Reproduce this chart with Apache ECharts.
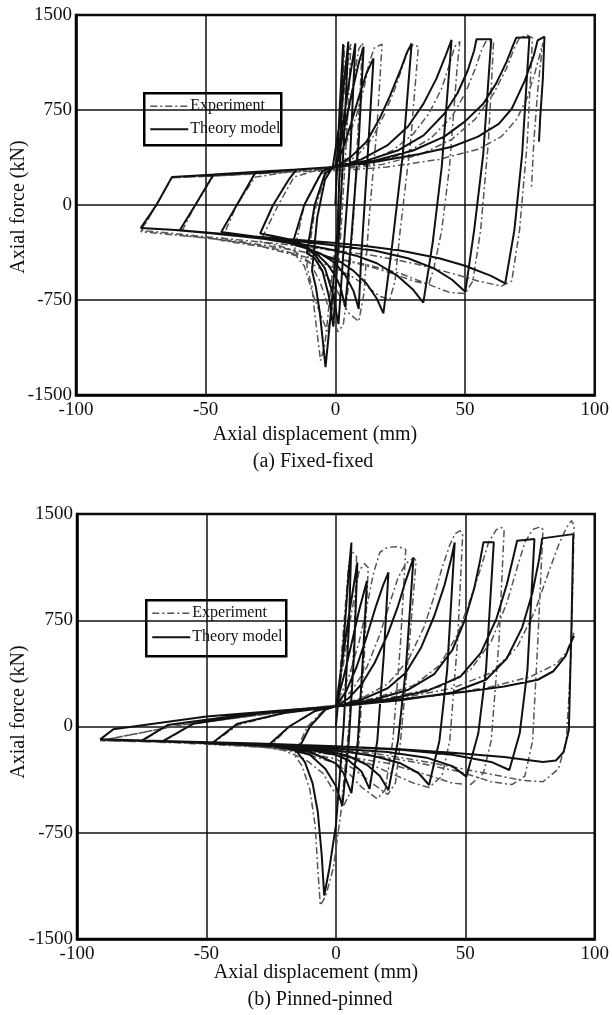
<!DOCTYPE html>
<html>
<head>
<meta charset="utf-8">
<script src="https://cdn.jsdelivr.net/npm/echarts@6/dist/echarts.min.js"></script>
<style>
html,body{margin:0;padding:0;background:#fff;}
#chart{width:612px;height:1015px;}
</style>
</head>
<body>
<div id="chart"></div>
<script>
// ---- data ----
const xTickValues = [-100, -50, 0, 50, 100];
const yTickValues = [-1500, -750, 0, 750, 1500];
const seriesNames = ['Experiment', 'Theory model'];
const panelTitles = ['(a) Fixed-fixed', '(b) Pinned-pinned'];
const xAxisTitle = 'Axial displacement (mm)';
const yAxisTitle = 'Axial force (kN)';

// (a) Fixed-fixed, theory model
const fixedTheory = [
[0,0],[1.5,700],[3,1270],[2.2,600],[0.8,-200],[-1.5,-800],[-3.8,-1280],[-4.8,-1080],[-6,-850],[-7.5,-650],[-9,-520],
[-7,-100],[-4,200],[-1,300],[2,700],[4,1100],[5,1290],
[3.5,600],[1.5,-200],[-0.8,-960],
[-2.5,-720],[-5,-520],[-8,-420],[-11,-380],
[-8,0],[-4,250],[0,300],[3,650],[5.5,1000],[7.7,1276],
[5.5,300],[3,-400],[1.2,-940],
[-1,-700],[-4,-500],[-8,-390],[-12,-330],[-16,-270],
[-12,0],[-5,270],[0,300],[3,560],[6,850],[9,1120],[10.9,1250],
[9,500],[6,-300],[3.8,-803],
[2,-650],[0,-560],[-3,-470],[-7,-390],[-12,-320],[-18,-270],[-24,-245],[-29,-225],
[-24,0],[-18,200],[-15,280],[-5,295],[0,300],[3,450],[6,640],[9,850],[12,1040],[14.7,1158],
[12.5,400],[10,-400],[9,-820],
[7,-680],[4,-560],[0,-460],[-6,-380],[-14,-320],[-24,-270],[-34,-240],[-44,-213],
[-38,0],[-31,250],[-15,280],[0,300],[6,380],[12,500],[17,680],[21,860],[25,1060],[27.5,1200],[29.4,1276],
[26,400],[22,-300],[18.5,-855],
[16,-740],[12,-620],[7,-520],[2,-450],[-4,-400],[-10,-350],[-18,-300],[-30,-258],[-45,-228],[-60,-200],
[-54,0],[-47,240],[-30,262],[-15,280],[0,300],[10,360],[20,470],[28,620],[34,800],[39,1000],[42.5,1180],[44.8,1303],
[41,300],[37.5,-300],[33.9,-771],
[30,-670],[24,-560],[16,-460],[8,-400],[0,-360],[-10,-320],[-20,-285],[-35,-250],[-50,-220],[-63,-196],[-75,-181],
[-69,0],[-63,222],[-40,245],[-18,274],[0,300],[12,350],[24,430],[34,550],[42,720],[47,880],[51,1060],[53.5,1220],[54.4,1308],[60.1,1308],
[57,400],[53.5,-200],[50.1,-684],
[45,-590],[38,-500],[28,-420],[15,-360],[0,-320],[-15,-285],[-30,-255],[-45,-225],[-60,-200],[-75,-181],
[-69,0],[-63,222],[-40,245],[-18,274],[0,300],[15,350],[30,430],[42,540],[50,660],[57,800],[62,960],[66,1130],[68.5,1260],[69.7,1320],[74.8,1324],
[72,400],[69,-200],[65.5,-618],
[60,-560],[50,-480],[40,-420],[25,-360],[10,-320],[0,-300],[-15,-275],[-30,-250],[-45,-225],[-60,-200],[-75,-181],
[-69,0],[-63,222],[-18,274],[0,300],[15,340],[32,400],[45,460],[55,540],[63,640],[68,760],[73,980],[76.5,1180],[78,1300],[80.6,1329],
[80,1000],[79,700],[78.5,500]
];

// (a) Fixed-fixed, experiment
const fixedExp = [
[0,0],[1.5,600],[3,1200],[3.5,1260],[2.8,700],[1,-100],[-2,-700],[-4,-1100],[-5.7,-1228],[-6.5,-1100],[-8,-850],[-9,-650],[-11,-480],
[-8,-50],[-4,230],[0,320],[2,650],[4,1000],[5.5,1240],[6,1270],
[4.5,600],[2,-250],[-1,-800],[-3,-1000],[-5,-900],[-8.7,-700],[-12,-480],[-16,-380],
[-12,0],[-6,240],[0,300],[4,600],[7,980],[9,1230],[10.5,1280],
[9,700],[7,-100],[5,-650],[3,-950],[1,-1000],[-2,-850],[-6,-600],[-10,-450],[-16,-360],[-22,-320],[-29,-290],
[-22,0],[-16,220],[-8,270],[0,310],[4,480],[8,700],[11,920],[13,1120],[15,1240],[18,1270],
[16,600],[13,-100],[11,-700],[9,-920],[5,-850],[0,-650],[-6,-500],[-15,-400],[-28,-330],[-44,-280],
[-38,0],[-31,220],[-15,270],[0,300],[8,380],[14,520],[19,720],[23,920],[26,1100],[28,1220],[30,1265],[32,1250],
[29,500],[25,-200],[23,-600],[21,-745],[17,-720],[12,-640],[6,-560],[0,-500],[-10,-420],[-20,-360],[-35,-300],[-50,-260],[-60,-240],
[-54,0],[-47,230],[-30,250],[-15,270],[0,290],[12,340],[22,430],[30,560],[36,720],[41,920],[44,1110],[46,1250],[48,1290],[47,1100],
[44,300],[41,-200],[38,-500],[36,-627],[30,-600],[22,-540],[12,-480],[0,-420],[-15,-360],[-30,-310],[-50,-260],[-65,-230],[-75,-210],
[-69,0],[-63,215],[-40,235],[-18,260],[0,280],[15,330],[27,410],[37,530],[45,700],[50,880],[54,1080],[56.5,1230],[58,1290],[61,1290],
[59,500],[56,-200],[53,-600],[50,-700],[44,-690],[35,-620],[25,-540],[12,-470],[0,-420],[-20,-340],[-40,-280],[-60,-240],[-75,-210],
[-69,0],[-63,215],[-40,235],[-18,260],[0,280],[18,320],[33,400],[45,520],[54,680],[61,880],[66,1080],[69,1240],[71,1320],[74,1340],[76,1320],
[74,500],[71,-200],[68,-600],[64,-640],[55,-600],[45,-540],[30,-460],[15,-400],[0,-360],[-20,-310],[-40,-270],[-60,-230],[-75,-200],
[-69,0],[-63,215],[-18,260],[0,270],[20,300],[40,360],[55,440],[64,540],[70,680],[74,850],[77,1050],[79,1200],[80,1280],[79.5,1200],[78,900],[76.5,500],[75.6,130]
];

// (b) Pinned-pinned, theory model
const pinnedTheory = [
[0,0],[3,600],[5,1100],[6,1299],
[5,700],[3,0],[0,-700],[-2.5,-1000],[-4.5,-1193],[-5.5,-900],[-7,-600],[-9,-400],[-12,-250],[-15,-180],
[-10,0],[-4,120],[0,142],[2,400],[5,780],[8.3,1158],
[7,500],[5,-100],[2.5,-560],[0,-420],[-4,-300],[-10,-200],[-20,-150],[-26,-130],
[-18,0],[-8,110],[0,142],[3,350],[6,580],[9,820],[12,1028],
[10.5,500],[8.5,-100],[6,-470],[3,-330],[0,-260],[-10,-180],[-25,-140],[-40,-125],[-48,-120],
[-38,20],[-20,95],[0,142],[4,250],[8,420],[12,640],[15.5,850],[18.3,1000],[20.3,1087],
[18.5,500],[16,-100],[13,-440],[10,-320],[5,-240],[0,-200],[-15,-150],[-35,-125],[-55,-110],[-67,-105],
[-55,20],[-30,90],[0,142],[5,200],[10,300],[15,450],[20,650],[24,850],[27,1030],[30,1193],
[27,400],[24,-100],[20.3,-449],[17,-350],[12,-270],[5,-210],[0,-185],[-20,-145],[-45,-120],[-75,-100],
[-65,10],[-35,85],[0,142],[10,190],[20,270],[27,380],[33,560],[38,780],[42,1000],[44.5,1180],[45.9,1299],
[43,400],[40,-100],[36,-413],[32,-330],[25,-260],[15,-210],[5,-180],[0,-170],[-30,-135],[-60,-110],[-91,-92],
[-91,-83],[-86,-20],[-50,70],[-20,115],[0,142],[15,190],[28,260],[38,370],[45,540],[50,760],[53.5,980],[55.8,1180],[57,1300],[61,1300],
[58,400],[55,-50],[50.4,-354],[45,-280],[35,-220],[20,-180],[0,-155],[-30,-130],[-60,-110],[-91,-92],
[-91,-83],[-86,-20],[-50,70],[-20,115],[0,142],[20,190],[35,250],[48,350],[56,520],[62,760],[66,1000],[68.6,1200],[70,1311],[76.7,1323],
[74,400],[71,-50],[67,-307],[60,-250],[45,-200],[25,-165],[0,-142],[-30,-125],[-60,-108],[-91,-92],
[-91,-83],[-86,-20],[-50,70],[-20,115],[0,142],[25,185],[45,240],[58,330],[66,480],[72,700],[76,950],[78.5,1180],[79.7,1328],[91.7,1358],
[91,700],[90,-24],[88,-180],[85,-240],[80,-250],[65,-215],[45,-185],[25,-160],[0,-140],[-30,-120],[-60,-105],[-91,-90],
[-91,-83],[-86,-20],[-50,70],[-20,115],[0,142],[20,180],[35,213],[50,245],[65,283],[78,330],[84,390],[88.7,496],[91,600],[92,640]
];

// (b) Pinned-pinned, experiment
const pinnedExp = [
[0,0],[3,700],[5,1150],[6.5,1230],[8,1200],
[7,600],[5,0],[2,-600],[-1,-1000],[-4,-1200],[-6,-1263],[-7,-1000],[-8,-700],[-10,-450],[-13,-280],[-16,-200],
[-11,0],[-5,110],[0,150],[3,450],[6,800],[9,1100],[11,1150],[12.5,1120],
[11,500],[9,-100],[6,-450],[3,-560],[0,-480],[-5,-330],[-12,-230],[-20,-170],[-26,-150],
[-18,0],[-8,110],[0,150],[5,350],[9,600],[12,850],[14.5,1080],[17,1230],[20,1265],[24,1270],[27,1250],
[25,600],[22,-100],[19,-450],[16,-510],[10,-430],[5,-330],[0,-260],[-12,-190],[-25,-150],[-40,-130],[-48,-125],
[-38,10],[-20,95],[0,150],[6,250],[12,420],[17,650],[21,880],[24,1050],[27,1150],[30,1190],[31,1170],
[28,500],[25,-100],[23,-400],[20,-480],[14,-400],[7,-300],[0,-230],[-15,-170],[-35,-135],[-55,-115],[-67,-110],
[-55,20],[-30,90],[0,150],[10,200],[20,300],[28,470],[34,700],[38,920],[41,1120],[44,1280],[46,1360],[48,1382],[49,1360],
[47,600],[44,-100],[41,-350],[36,-430],[30,-400],[20,-320],[10,-240],[0,-200],[-25,-150],[-50,-125],[-75,-105],
[-65,10],[-35,85],[0,150],[15,200],[30,290],[40,430],[47,650],[52,900],[56,1120],[59,1300],[62,1390],[64,1405],[65,1390],
[63,600],[60,-100],[57,-330],[52,-410],[45,-400],[35,-340],[20,-260],[0,-200],[-30,-140],[-60,-115],[-91,-100],
[-60,10],[-30,80],[0,150],[20,200],[40,280],[52,400],[60,600],[66,870],[70,1120],[73,1300],[76,1390],[79,1410],[80,1390],
[78,600],[76,-100],[73,-350],[68,-410],[60,-390],[48,-320],[30,-250],[10,-190],[0,-175],[-30,-135],[-60,-112],[-91,-100],
[-60,10],[-30,80],[0,150],[25,200],[45,270],[60,380],[70,560],[77,820],[82,1080],[86,1280],[89,1400],[91,1453],[92,1420],
[91.5,1000],[91,600],[90,200],[89,-100],[86,-300],[80,-390],[72,-380],[55,-320],[35,-250],[15,-190],[0,-160],[-30,-130],[-60,-110],[-91,-100],
[-60,10],[-30,80],[0,150],[20,180],[40,220],[60,280],[75,350],[85,440],[89,520],[92,661]
];

// ---- chart ----
const FONT = '"Liberation Serif","Times New Roman",serif';
const grids = [
  {left:76, top:15, width:521, height:380},
  {left:77, top:514, width:523, height:425}
];
function xAxisFor(i){
  return {gridIndex:i, type:'value', min:xTickValues[0], max:xTickValues[xTickValues.length-1], interval:50,
    axisLine:{onZero:false, lineStyle:{color:'#000', width:2.5}}, axisTick:{show:false},
    axisLabel:{color:'#111', fontFamily:FONT, fontSize:19, margin:6, formatter:v=>String(v)},
    splitLine:{show:true, lineStyle:{color:'#111', width:1.5}}};
}
function yAxisFor(i){
  return {gridIndex:i, type:'value', min:yTickValues[0], max:yTickValues[yTickValues.length-1], interval:750,
    axisLine:{onZero:false, lineStyle:{color:'#000', width:2.5}}, axisTick:{show:false},
    axisLabel:{color:'#111', fontFamily:FONT, fontSize:19, margin:4, formatter:v=>String(v)},
    splitLine:{show:true, lineStyle:{color:'#111', width:1.5}}};
}
const expStyle = {color:'#555', width:1.5, type:[7,3,2,3]};
const theoStyle = {color:'#111', width:2};
function lineSeries(name, data, idx, style){
  return {name:name, type:'line', xAxisIndex:idx, yAxisIndex:idx, data:data, showSymbol:false, symbol:'none',
    lineStyle:style, clip:true, animation:false, z: style===theoStyle?3:2};
}
function legendGroup(x, y, w, h, gapY){
  return {type:'group', left:x, top:y, z:100, children:[
    {type:'rect', shape:{x:0,y:0,width:w,height:h}, style:{fill:'#fff', stroke:'#000', lineWidth:2.5}},
    {type:'line', shape:{x1:6,y1:13,x2:44,y2:13}, style:{stroke:'#555', lineWidth:1.5, lineDash:[7,3,2,3]}},
    {type:'text', x:46, y:13, style:{text:seriesNames[0], font:'16px '+FONT, fill:'#111', verticalAlign:'middle'}},
    {type:'line', shape:{x1:6,y1:13+gapY,x2:44,y2:13+gapY}, style:{stroke:'#111', lineWidth:2.2}},
    {type:'text', x:46, y:13+gapY, style:{text:seriesNames[1], font:'16px '+FONT, fill:'#111', verticalAlign:'middle'}}
  ]};
}
function textEl(txt, x, y, size, rot){
  return {type:'text', x:x, y:y, rotation:rot||0, z:100,
    style:{text:txt, font:size+'px '+FONT, fill:'#111', align:'center', verticalAlign:'middle'}};
}
const option = {
  animation:false,
  backgroundColor:'#fff',
  grid: grids.map(g=>Object.assign({show:true, borderColor:'#000', borderWidth:2.5, backgroundColor:'transparent'}, g)),
  xAxis:[xAxisFor(0), xAxisFor(1)],
  yAxis:[yAxisFor(0), yAxisFor(1)],
  series:[
    lineSeries(seriesNames[0], fixedExp, 0, expStyle),
    lineSeries(seriesNames[1], fixedTheory, 0, theoStyle),
    lineSeries(seriesNames[0], pinnedExp, 1, expStyle),
    lineSeries(seriesNames[1], pinnedTheory, 1, theoStyle)
  ],
  graphic:[
    legendGroup(143, 92, 137, 52, 23),
    legendGroup(145, 599, 140, 56, 24),
    textEl(yAxisTitle, 19, 207, 20, Math.PI/2),
    textEl(yAxisTitle, 19, 712, 20, Math.PI/2),
    textEl(xAxisTitle, 315, 435, 20),
    textEl(panelTitles[0], 313, 462, 20),
    textEl(xAxisTitle, 316, 973, 20),
    textEl(panelTitles[1], 320, 1000, 20)
  ]
};
const chart = echarts.init(document.getElementById('chart'), null, {renderer:'canvas'});
chart.setOption(option);
</script>
</body>
</html>
